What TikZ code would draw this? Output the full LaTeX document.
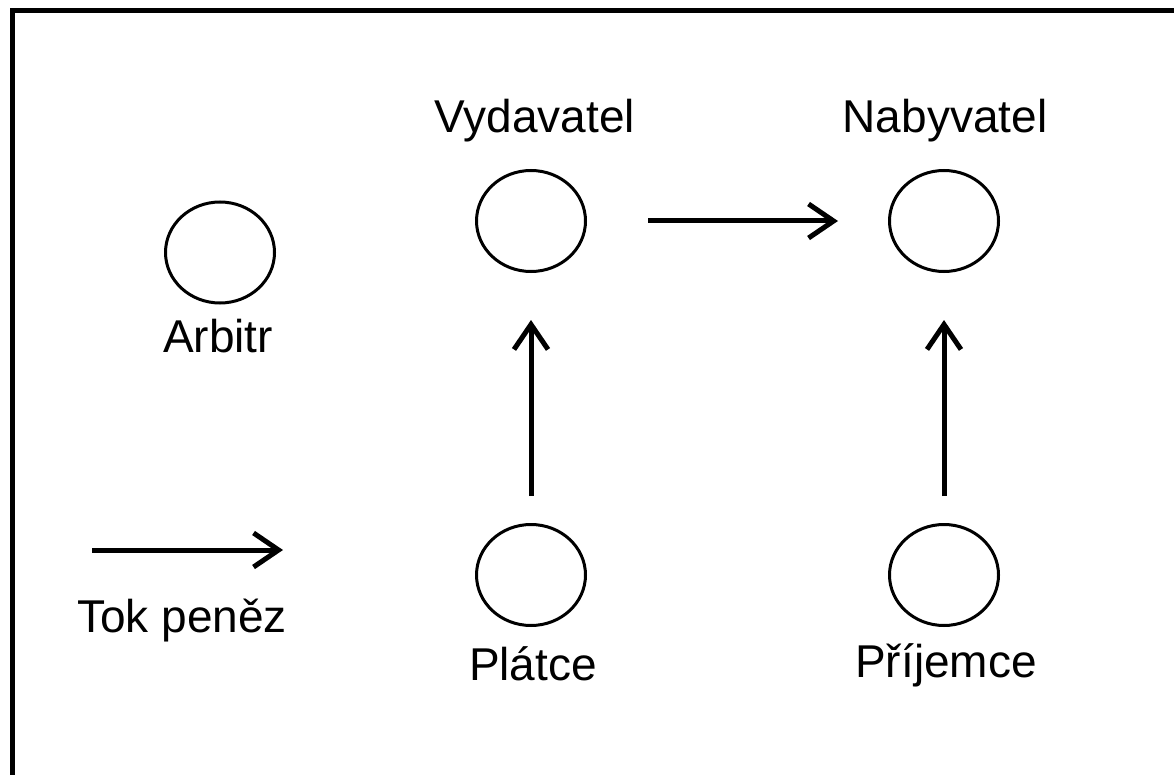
\documentclass[tikz,border=0pt]{standalone}
\usepackage{fontspec}
\setmainfont{Liberation Sans}
\usetikzlibrary{arrows.meta,shapes.geometric}

\begin{document}
\begin{tikzpicture}[x=1pt, y=-1pt,
		party/.style={draw, ellipse, line width=3pt, inner sep=0pt, minimum width=109pt, minimum height=101pt},
		lbl/.style={anchor=base, inner sep=0pt, font=\fontsize{46}{55}\selectfont},
		flow/.style={line width=5pt, -{Straight Barb[length=25pt, width=34pt]}}]
	\useasboundingbox (0,0) rectangle (1174,775);

	% Frame
	\draw[line width=5pt] (12,775) -- (12,10.5) -- (1174,10.5);

	% Parties
	\node[party] (arbitr) at (220,252.5) {};
	\node[party] (vydavatel) at (531,221) {};
	\node[party] (nabyvatel) at (944,221) {};
	\node[party] (platce) at (531,575) {};
	\node[party] (prijemce) at (944,575) {};

	% Labels
	\node[lbl] (arbitrlbl) at (218,352) {Arbitr};
	\node[lbl] (vydavatellbl) at (535,133) {Vydavatel};
	\node[lbl] (nabyvatellbl) at (945,133) {Nabyvatel};
	\node[lbl] (platcelbl) at (533,680) {Plátce};
	\node[lbl] (prijemcelbl) at (946,677) {Příjemce};

	% Money flows
	\draw[flow, shorten <=61pt, shorten >=50pt] (vydavatel) -- (nabyvatel);
	\draw[flow, shorten <=27pt, shorten >=47pt] (platce) -- (vydavatel);
	\draw[flow, shorten <=27pt, shorten >=47pt] (prijemce) -- (nabyvatel);

	% Legend
	\coordinate (legfrom) at (92,550);
	\coordinate (legto) at (283,550);
	\draw[flow] (legfrom) -- (legto);
	\node[lbl] (leglbl) at (182,632) {Tok peněz};
\end{tikzpicture}
\end{document}
